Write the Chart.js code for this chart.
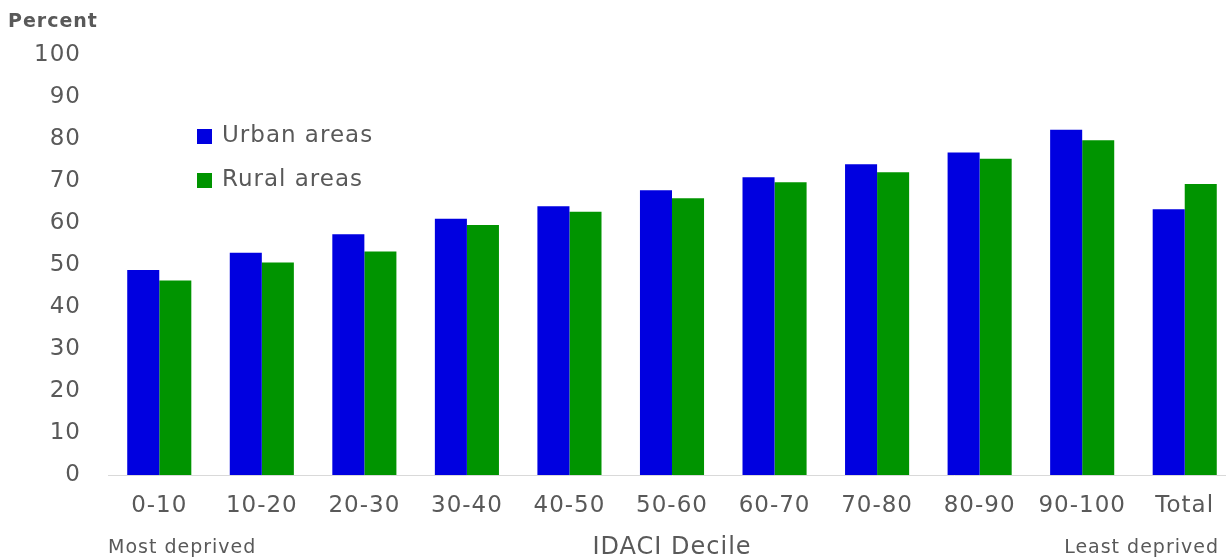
<!DOCTYPE html>
<html>
<head>
<meta charset="utf-8">
<script src="https://cdn.jsdelivr.net/npm/chart.js@4/dist/chart.umd.min.js"></script>
<style>
  html, body { margin: 0; padding: 0; background: #fff; overflow: hidden; }
  #wrap { width: 1240px; height: 560px; }
</style>
</head>
<body>
<div id="wrap"><canvas id="chart" width="1240" height="560"></canvas></div>
<script>
// data
const deciles = ['0-10', '10-20', '20-30', '30-40', '40-50', '50-60', '60-70', '70-80', '80-90', '90-100', 'Total'];
const urbanValues = [48.8, 52.9, 57.3, 61.0, 64.0, 67.8, 70.9, 74.0, 76.8, 82.2, 63.3];
const ruralValues = [46.3, 50.6, 53.2, 59.5, 62.7, 65.9, 69.7, 72.1, 75.3, 79.7, 69.3];
const yTicks = [0, 10, 20, 30, 40, 50, 60, 70, 80, 90, 100];

const grey = '#595959';
const font = 'DejaVu Sans';

// the original text is drawn a bit wide, spread the letters a little
const wideText = {
    id: 'wideText',
    beforeDraw(chart) {
        chart.ctx.letterSpacing = '1px';
    }
};

// legend stacked inside the plot + the captions round the axes
const extraText = {
    id: 'extraText',
    afterDraw(chart) {
        const ctx = chart.ctx;
        const area = chart.chartArea;
        ctx.save();
        ctx.letterSpacing = '1px';
        ctx.fillStyle = grey;
        ctx.textBaseline = 'middle';

        ctx.font = 'bold 19px ' + font;
        ctx.textAlign = 'left';
        ctx.fillText('Percent', 8, 22);

        // legend
        ctx.font = '23px ' + font;
        chart.data.datasets.forEach((ds, i) => {
            const y = 136 + i * 44;
            ctx.fillStyle = ds.backgroundColor;
            ctx.fillRect(197, y - 7, 15, 15);
            ctx.fillStyle = grey;
            ctx.fillText(ds.label, 222, y);
        });

        ctx.font = '19px ' + font;
        ctx.fillText('Most deprived', 108, 548);
        ctx.textAlign = 'right';
        ctx.fillText('Least deprived', 1219, 548);

        ctx.font = '24px ' + font;
        ctx.textAlign = 'center';
        ctx.fillText('IDACI Decile', (area.left + area.right) / 2, 548);
        ctx.restore();
    }
};

new Chart(document.getElementById('chart'), {
    type: 'bar',
    data: {
        labels: deciles,
        datasets: [
            {
                label: 'Urban areas',
                data: urbanValues,
                backgroundColor: '#0000e0',
                borderWidth: 0,
                categoryPercentage: 0.625,
                barPercentage: 1.0
            },
            {
                label: 'Rural areas',
                data: ruralValues,
                backgroundColor: '#009400',
                borderWidth: 0,
                categoryPercentage: 0.625,
                barPercentage: 1.0
            }
        ]
    },
    options: {
        responsive: false,
        animation: false,
        devicePixelRatio: 1,
        layout: { padding: { top: 55, right: 4, left: 0, bottom: 0 } },
        plugins: {
            legend: { display: false },
            tooltip: { enabled: false }
        },
        scales: {
            x: {
                grid: { display: false, drawTicks: false },
                border: { display: true, color: '#d9d9d9', width: 1 },
                ticks: {
                    color: grey,
                    font: { family: font, size: 23 },
                    padding: 17,
                    maxRotation: 0,
                    autoSkip: false
                },
                afterFit(scale) { scale.height = 85; }
            },
            y: {
                min: 0,
                max: 100,
                afterBuildTicks(scale) { scale.ticks = yTicks.map(v => ({ value: v })); },
                grid: { display: false, drawTicks: false },
                border: { display: false },
                ticks: {
                    color: grey,
                    font: { family: font, size: 23 },
                    padding: 27
                },
                afterFit(scale) { scale.width = 108; }
            }
        }
    },
    plugins: [wideText, extraText]
});
</script>
</body>
</html>
